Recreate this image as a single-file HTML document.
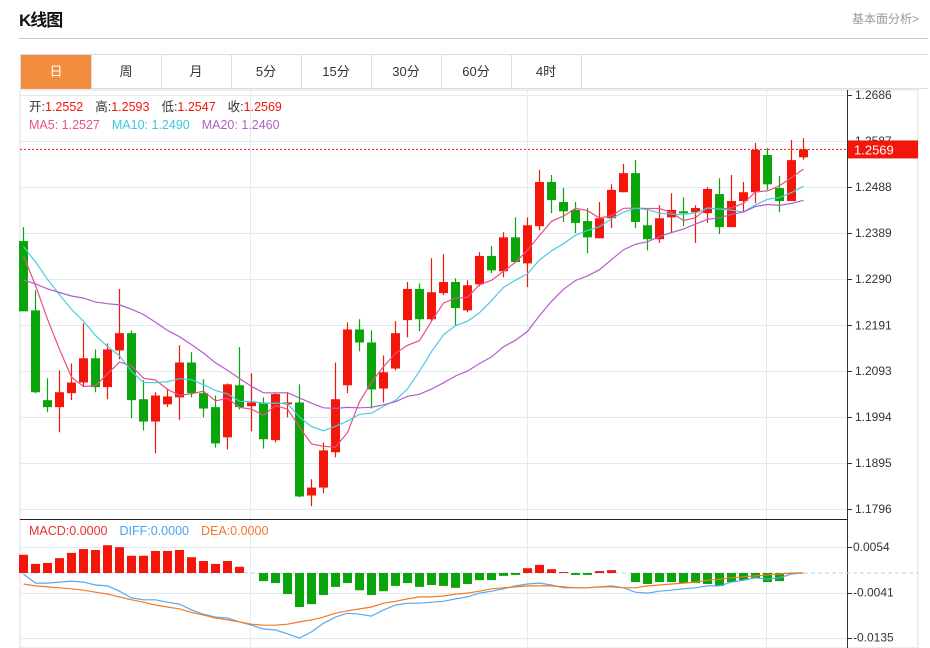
<!DOCTYPE html>
<html><head><meta charset="utf-8">
<style>
html,body{margin:0;padding:0;background:#fff;width:930px;height:648px;overflow:hidden;font-family:"Liberation Sans","Noto Sans CJK SC",sans-serif;}
#title{position:absolute;left:19px;top:6px;font-size:17px;font-weight:bold;color:#111;letter-spacing:-1px;}
#more{position:absolute;left:852px;top:10px;font-size:12px;color:#999;}
#hline{position:absolute;left:19px;top:38px;width:909px;height:1px;background:#ccc;}
#tabs{position:absolute;left:20px;top:54px;width:908px;height:35px;border:1px solid #ddd;border-right:none;box-sizing:border-box;}
.tab{position:absolute;top:0;height:34px;width:70px;border-right:1px solid #ddd;text-align:center;line-height:34px;font-size:13px;color:#333;}
.tab.on{background:#f28c3f;color:#fff;}
svg{position:absolute;left:0;top:0;}
</style></head><body>
<div id="title">K线图</div>
<div id="more">基本面分析&gt;</div>
<div id="hline"></div>
<div id="tabs">
<div class="tab on" style="left:0">日</div>
<div class="tab" style="left:70px">周</div>
<div class="tab" style="left:140px">月</div>
<div class="tab" style="left:210px">5分</div>
<div class="tab" style="left:280px">15分</div>
<div class="tab" style="left:350px">30分</div>
<div class="tab" style="left:420px">60分</div>
<div class="tab" style="left:490px">4时</div>
</div>
<svg id="chart" width="930" height="648"></svg>
<script>
const opens =[1.2372,1.2223,1.2030,1.2015,1.2045,1.2068,1.2120,1.2058,1.2137,1.2174,1.2032,1.1984,1.2021,1.2036,1.2111,1.2045,1.2015,1.1950,1.2062,1.2017,1.2025,1.1944,1.2021,1.2025,1.1825,1.1842,1.1918,1.2062,1.2182,1.2154,1.2055,1.2098,1.2202,1.2269,1.2204,1.2260,1.2284,1.2223,1.2279,1.2340,1.2307,1.2380,1.2324,1.2404,1.2499,1.2456,1.2439,1.2415,1.2378,1.2421,1.2477,1.2518,1.2406,1.2376,1.2423,1.2436,1.2434,1.2432,1.2473,1.2402,1.2458,1.2477,1.2557,1.2486,1.2458,1.2552];
const highs =[1.2402,1.2266,1.2077,1.2094,1.2109,1.2195,1.2139,1.2152,1.2269,1.2180,1.2073,1.2047,1.2055,1.2148,1.2133,1.2075,1.2040,1.2066,1.2144,1.2088,1.2036,1.2045,1.2047,1.2064,1.1860,1.1939,1.2111,1.2197,1.2204,1.2180,1.2126,1.2200,1.2284,1.2281,1.2335,1.2344,1.2292,1.2288,1.2348,1.2361,1.2391,1.2423,1.2423,1.2525,1.2514,1.2486,1.2456,1.2443,1.2456,1.2494,1.2538,1.2546,1.2439,1.2449,1.2475,1.2466,1.2449,1.2488,1.2507,1.2514,1.2499,1.2583,1.2572,1.2512,1.2589,1.2593];
const lows  =[1.2221,1.2045,1.2004,1.1961,1.2030,1.2058,1.2047,1.2032,1.2118,1.1991,1.1965,1.1916,1.2015,1.1987,1.2036,1.1993,1.1928,1.1924,1.2010,1.1963,1.1926,1.1939,1.1993,1.1821,1.1802,1.1830,1.1907,1.2045,1.2135,1.2012,1.2025,1.2094,1.2165,1.2178,1.2200,1.2256,1.2191,1.2219,1.2275,1.2303,1.2294,1.2325,1.2273,1.2395,1.2432,1.2413,1.2389,1.2346,1.2378,1.2400,1.2477,1.2400,1.2352,1.2368,1.2391,1.2404,1.2368,1.2411,1.2387,1.2402,1.2434,1.2454,1.2482,1.2434,1.2458,1.2547];
const closes=[1.2221,1.2047,1.2015,1.2047,1.2068,1.2120,1.2058,1.2139,1.2174,1.2030,1.1984,1.2040,1.2038,1.2111,1.2045,1.2012,1.1937,1.2064,1.2015,1.2025,1.1946,1.2043,1.2025,1.1823,1.1842,1.1922,1.2032,1.2182,1.2154,1.2053,1.2090,1.2174,1.2269,1.2204,1.2262,1.2284,1.2228,1.2277,1.2340,1.2309,1.2380,1.2327,1.2406,1.2499,1.2460,1.2436,1.2411,1.2380,1.2421,1.2482,1.2518,1.2413,1.2376,1.2421,1.2439,1.2432,1.2443,1.2484,1.2402,1.2458,1.2477,1.2568,1.2494,1.2458,1.2546,1.2569];
const priorCloses=[1.2210,1.2225,1.2205,1.2220,1.2212,1.2230,1.2208,1.2222,1.2215,1.2213,1.2375,1.2390,1.2378,1.2385,1.2372,1.2365,1.2378,1.2372,1.2365];
const macdHist=[0.0038,0.0019,0.0021,0.0031,0.0042,0.0050,0.0048,0.0058,0.0054,0.0036,0.0036,0.0046,0.0046,0.0048,0.0033,0.0025,0.0019,0.0025,0.0013,0,-0.0017,-0.0021,-0.0044,-0.0071,-0.0065,-0.0046,-0.0029,-0.0021,-0.0036,-0.0046,-0.0038,-0.0027,-0.0021,-0.0029,-0.0025,-0.0027,-0.0031,-0.0023,-0.0015,-0.0015,-0.0006,-0.0004,0.0010,0.0017,0.0008,0.0002,-0.0004,-0.0004,0.0004,0.0006,0,-0.0019,-0.0023,-0.0019,-0.0019,-0.0021,-0.0021,-0.0023,-0.0027,-0.0019,-0.0015,-0.0010,-0.0019,-0.0017,-0.0002,0];
const diffLine=[-0.0002,-0.0021,-0.0021,-0.0019,-0.0017,-0.0019,-0.0025,-0.0027,-0.0038,-0.0052,-0.0056,-0.0056,-0.0061,-0.0065,-0.0077,-0.0086,-0.0092,-0.0094,-0.0102,-0.0109,-0.0117,-0.0119,-0.0127,-0.0136,-0.0123,-0.0105,-0.0092,-0.0084,-0.0086,-0.0090,-0.0077,-0.0067,-0.0063,-0.0063,-0.0061,-0.0059,-0.0054,-0.0050,-0.0042,-0.0038,-0.0033,-0.0027,-0.0023,-0.0021,-0.0025,-0.0031,-0.0031,-0.0031,-0.0029,-0.0027,-0.0031,-0.0040,-0.0042,-0.0038,-0.0036,-0.0033,-0.0031,-0.0027,-0.0027,-0.0019,-0.0015,-0.0010,-0.0013,-0.0010,-0.0002,0];
const deaLine=[-0.0023,-0.0027,-0.0029,-0.0031,-0.0033,-0.0036,-0.0040,-0.0044,-0.0050,-0.0056,-0.0061,-0.0067,-0.0071,-0.0075,-0.0082,-0.0088,-0.0094,-0.0098,-0.0102,-0.0107,-0.0109,-0.0109,-0.0107,-0.0102,-0.0098,-0.0092,-0.0084,-0.0079,-0.0075,-0.0071,-0.0063,-0.0059,-0.0054,-0.0050,-0.0050,-0.0048,-0.0044,-0.0042,-0.0038,-0.0033,-0.0031,-0.0029,-0.0027,-0.0027,-0.0027,-0.0029,-0.0031,-0.0031,-0.0029,-0.0029,-0.0031,-0.0031,-0.0027,-0.0025,-0.0023,-0.0021,-0.0019,-0.0015,-0.0013,-0.0010,-0.0008,-0.0006,-0.0004,-0.0002,0,0];
const priceTicks=['1.2686','1.2587','1.2488','1.2389','1.2290','1.2191','1.2093','1.1994','1.1895','1.1796'];
const macdTicks=['0.0054','-0.0041','-0.0135'];
const lastClose=1.2569;

const NS='http://www.w3.org/2000/svg';
const svg=document.getElementById('chart');
function el(tag,attrs,parent){const e=document.createElementNS(NS,tag);for(const k in attrs)e.setAttribute(k,attrs[k]);(parent||svg).appendChild(e);return e;}
const pTop=1.2686,pBot=1.1796,yTop=95,yBot=509;
function yP(p){return yTop+(pTop-p)/(pTop-pBot)*(yBot-yTop);}
const zeroY=573,mScale=45.5/0.0095;
function yM(v){return zeroY-v*mScale;}
function xC(i){return 23.5+i*12;}
const RED='#f2170a',GREEN='#0aa50a';

let g;
g=el('rect',{x:20,y:90,width:898,height:558,fill:'none',stroke:'#ddd'});


priceTicks.forEach(t=>{const y=Math.round(yP(+t))+0.5;
 g=el('line',{x1:20,x2:847,y1:y,y2:y,stroke:'#e3ebf2'});
 
 
});
macdTicks.forEach(t=>{const y=Math.round(yM(+t))+0.5;
 g=el('line',{x1:20,x2:847,y1:y,y2:y,stroke:'#e3ebf2'});
 
 
});
[250,527,766].forEach(x=>{
 g=el('line',{x1:x+0.5,x2:x+0.5,y1:90,y2:648,stroke:'#e3ebf2'});
 
 
});
g=el('line',{x1:20,x2:847,y1:519.5,y2:519.5,stroke:'#222'});


g=el('line',{x1:847.5,x2:847.5,y1:90,y2:648,stroke:'#333'});


g=el('line',{x1:20,x2:918,y1:yM(0),y2:yM(0),stroke:'#a8d8ea','stroke-dasharray':'4,3'});



priceTicks.forEach(t=>{const y=yP(+t);
 g=el('line',{x1:847,x2:852,y1:Math.round(y)+0.5,y2:Math.round(y)+0.5,stroke:'#333'});
 
 
 g=el('text',{x:855,y:y+4,'font-size':12,fill:'#333'});g.textContent=t;
 
 
});
macdTicks.forEach(t=>{const y=yM(+t);
 g=el('line',{x1:847,x2:852,y1:Math.round(y)+0.5,y2:Math.round(y)+0.5,stroke:'#333'});
 
 
 g=el('text',{x:853,y:y+4,'font-size':12,fill:'#333'});g.textContent=t;
 
 
});

macdHist.forEach((v,i)=>{if(v===0)return;const x=xC(i);const y0=yM(0),y1=yM(v);
 g=el('rect',{x:x-4.5,y:Math.min(y0,y1),width:9,height:Math.abs(y1-y0),fill:v>0?RED:GREEN});
 
 
});
function line(arr,fy,color,name){const pts=arr.map((v,i)=>xC(i)+','+fy(v).toFixed(1)).join(' ');
 const p=el('polyline',{points:pts,fill:'none',stroke:color,'stroke-width':1.2});
 
 }
line(diffLine,yM,'#5aa9f2','diff-line');
line(deaLine,yM,'#f37b22','dea-line');

closes.forEach((c,i)=>{const o=opens[i],x=xC(i);const up=c>=o;const col=up?RED:GREEN;
 g=el('line',{x1:x,x2:x,y1:yP(highs[i]),y2:yP(lows[i]),stroke:col,'stroke-width':1.2});
 
 
 const yt=yP(Math.max(o,c)),yb=yP(Math.min(o,c));
 g=el('rect',{x:x-4.5,y:yt,width:9,height:Math.max(1,yb-yt),fill:col});
 
 
});
const all=priorCloses.concat(closes);
function ma(n){return closes.map((c,i)=>{let s=0;const k=i+priorCloses.length;for(let j=k-n+1;j<=k;j++)s+=all[j];return s/n;});}
line(ma(5),yP,'#ea4f86','ma5-line');
line(ma(10),yP,'#45cde0','ma10-line');
line(ma(20),yP,'#b25fc9','ma20-line');

g=el('line',{x1:20,x2:847,y1:yP(lastClose),y2:yP(lastClose),stroke:RED,'stroke-dasharray':'2,2'});


g=el('rect',{x:848,y:yP(lastClose)-9,width:70,height:18,fill:RED});


g=el('text',{x:854,y:yP(lastClose)+5,'font-size':13,fill:'#fff'});g.textContent=lastClose.toFixed(4);



function legend(items,y,name){const t=el('text',{x:29,y:y,'font-size':12.5});
 
 
 items.forEach(([s,c,dx])=>{const ts=el('tspan',{fill:c},t);if(dx)ts.setAttribute('dx',dx);ts.textContent=s;});}
legend([['开:','#333'],['1.2552',RED],['高:','#333',12],['1.2593',RED],['低:','#333',12],['1.2547',RED],['收:','#333',12],['1.2569',RED]],111,'ohlc-legend');
legend([['MA5: 1.2527','#e8538a'],['MA10: 1.2490','#3cc8dc',12],['MA20: 1.2460','#b25fc9',12]],129,'ma-legend');
legend([['MACD:0.0000','#e8322a'],['DIFF:0.0000','#4aa3f0',12],['DEA:0.0000','#f07a2a',12]],535,'macd-legend');
</script>
</body></html>
